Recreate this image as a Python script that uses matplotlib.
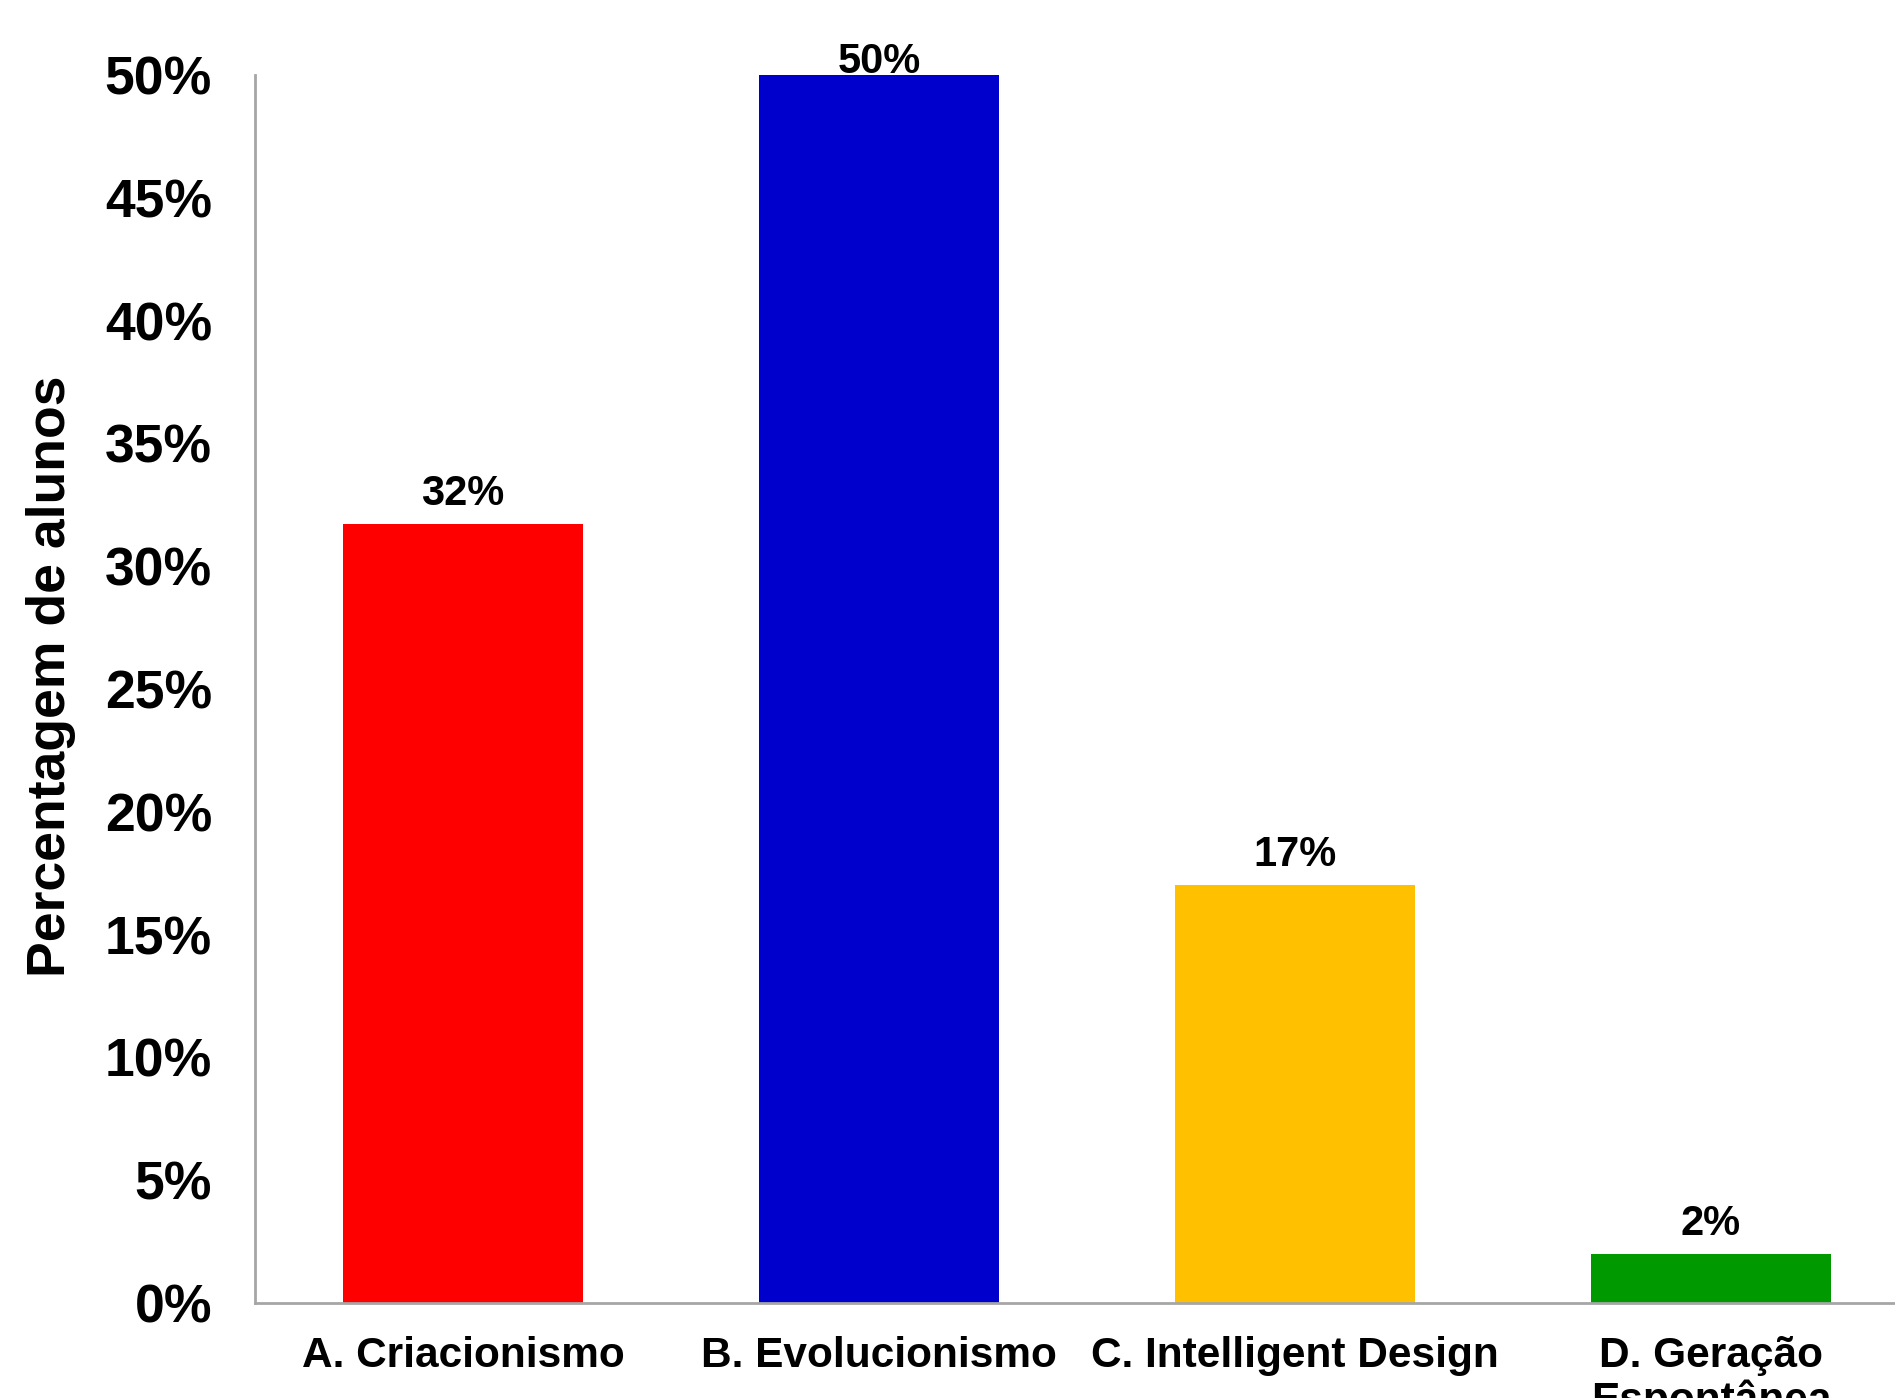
import numpy as np
import matplotlib.pyplot as plt
from matplotlib.ticker import FuncFormatter

categories = ["A. Criacionismo", "B. Evolucionismo", "C. Intelligent Design",
              "D. Geração\nEspontânea"]
values = [31.7, 50, 17, 2]
colors = ["#FF0000", "#0000CC", "#FFC000", "#009900"]
yticks = [0, 5, 10, 15, 20, 25, 30, 35, 40, 45, 50]

plt.rcParams['font.family'] = ['Liberation Sans', 'DejaVu Sans']
plt.rcParams['font.weight'] = 'bold'

fig = plt.figure(figsize=(18.95, 13.98), dpi=100)
# the axes run past the right edge, as in the original (cropped) image
ax = fig.add_axes([255/1895, 95/1398, 1664/1895, 1228/1398])

x = np.arange(len(categories))
bars = ax.bar(x, values, width=0.575, color=colors)

for xi, v in zip(x, values):
    off = -7 if v == max(values) else 10
    ax.annotate(f"{v:.0f}%", (xi, v), xytext=(0, off), textcoords="offset pixels",
                ha="center", va="bottom", fontsize=30, fontweight="bold")

ax.set_xlim(-0.5, 3.5)
ax.set_ylim(0, 50)
ax.set_yticks(yticks)
ax.yaxis.set_major_formatter(FuncFormatter(lambda v, p: f"{v:.0f}%"))
ax.set_xticks(x)
ax.set_xticklabels(categories, fontsize=30.5, fontweight="bold",
                   linespacing=1.1, va="top")

ax.tick_params(axis="y", length=0, pad=31, labelsize=38.5)
ax.tick_params(axis="x", length=0, pad=24)
for lab in ax.get_yticklabels():
    lab.set_fontweight("bold")

for s in ["top", "right"]:
    ax.spines[s].set_visible(False)
for s in ["left", "bottom"]:
    ax.spines[s].set_color("#A6A6A6")
    ax.spines[s].set_linewidth(2)

ax.set_ylabel("Percentagem de alunos", fontsize=38.5, fontweight="bold",
              va="center")
ax.yaxis.set_label_coords(-0.1226, 0.51)

fig.savefig("out.png", dpi=100)
